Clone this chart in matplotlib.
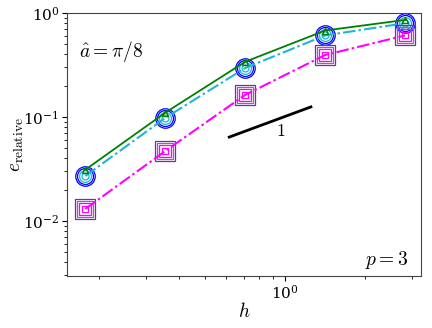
import matplotlib
matplotlib.use("Agg")
import matplotlib.pyplot as plt
import numpy as np

plt.rcParams['mathtext.fontset'] = 'cm'
plt.rcParams['font.family'] = 'serif'
plt.rcParams['font.serif'] = ['DejaVu Serif']

h = [0.177, 0.354, 0.707, 1.414, 2.828]
err_green = [0.031, 0.110, 0.340, 0.680, 0.860]
err_circ = [0.027, 0.098, 0.296, 0.610, 0.800]
err_sq = [0.013, 0.047, 0.163, 0.395, 0.610]
slope_x = [0.616, 1.25]
slope_y = [0.064, 0.125]

fig = plt.figure(figsize=(4.32, 3.28), dpi=100)
ax = fig.add_axes([0.155, 0.159, 0.82, 0.801])

ax.plot(h, err_green, '-', color='green', lw=1.3, marker='^', ms=5,
        mfc='none', mec='green', zorder=3)
ax.plot(h, err_circ, 'o', color='blue', ms=14, mfc='none', mew=0.9, ls='none')
ax.plot(h, err_circ, 'o', color='blue', ms=11.5, mfc='none', mew=0.9, ls='none')
ax.plot(h, err_circ, 'o', color='#1fb4d8', ms=8.5, mfc='none', mew=0.9, ls='none')
ax.plot(h, err_circ, color='#1fb4d8', marker='o', ms=5, mfc='none', mew=0.9,
        ls=(0, (6, 1.5, 1.2, 1.5)), lw=1.5)
ax.plot(h, err_sq, 's', color='#7030a0', ms=14, mfc='none', mew=0.9, ls='none')
ax.plot(h, err_sq, 's', color='#9b59c8', ms=11.3, mfc='none', mew=0.9, ls='none')
ax.plot(h, err_sq, 's', color='magenta', ms=8.6, mfc='none', mew=0.9, ls='none')
ax.plot(h, err_sq, color='magenta', marker='s', ms=4.8, mfc='none', mew=0.9,
        ls=(0, (6, 1.5, 1.2, 1.5)), lw=1.5)

ax.plot(slope_x, slope_y, color='black', lw=2)
ax.text(0.966, 0.073, '$1$', fontsize=13, ha='center', va='center')

ax.set_xscale('log')
ax.set_yscale('log')
ax.set_xlim(0.151, 3.25)
ax.set_ylim(0.00295, 1.0)

ax.text(0.035, 0.855, r'$\hat{a} = \pi/8$', transform=ax.transAxes,
        fontsize=14, ha='left', va='center')
ax.text(0.965, 0.06, r'$p = 3$', transform=ax.transAxes,
        fontsize=14, ha='right', va='center')

ax.set_xlabel('$h$', fontsize=14)
ax.xaxis.set_label_coords(0.5, -0.135)
ax.xaxis.label.set_va('center')
ax.set_ylabel(r'$e_{\mathrm{relative}}$', fontsize=14)
ax.yaxis.set_label_coords(-0.142, 0.5)
ax.yaxis.label.set_va('center')
ax.tick_params(labelsize=11, pad=2)
for s in ax.spines.values():
    s.set_color('#444444')

fig.savefig('out.png', dpi=100)
